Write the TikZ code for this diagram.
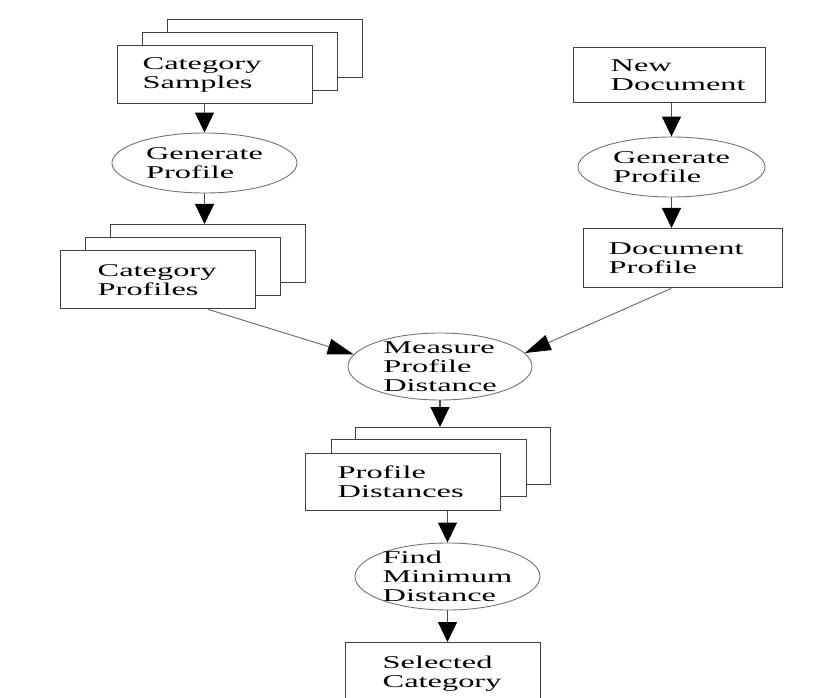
\documentclass[tikz,border=0pt]{standalone}
\usepackage{fontspec}
\setmainfont[FakeStretch=1.8]{Liberation Serif}
\usetikzlibrary{shapes.geometric,arrows.meta}

\begin{document}
\begin{tikzpicture}[x=1pt, y=-1pt,
      every node/.append style={font=\fontsize{18}{19}\selectfont, align=left},
      page/.style={draw=black!75, line width=1.4pt, fill=white, rectangle, anchor=north west,
        minimum width=195pt, minimum height=58pt, inner ysep=0pt},
      proc/.style={draw=black!55, line width=0.9pt, ellipse, inner xsep=0pt, inner ysep=-4pt},
      flow/.style={draw=black!70, line width=1.1pt, -{Triangle[length=20pt,width=19pt,color=black]}},
      link/.style={draw=black!60, line width=0.9pt, -{Triangle[length=26pt,width=16pt,color=black]}}]
  \useasboundingbox (0,0) rectangle (831,698);

  \node (CSback) [page] at (167,19) {};
  \node (CSmid) [page] at (142,32) {};
  \node (CS) [page, text width=145pt, inner xsep=25pt] at (117,45) {Category\\Samples};

  \node (gen1) [proc, minimum width=185pt, minimum height=60pt] at (204.5,163) {Generate\\Profile};

  \node (CPback) [page] at (110,224) {};
  \node (CPmid) [page] at (85,237) {};
  \node (CP) [page, text width=121pt, inner xsep=37pt] at (60,250) {Category\\Profiles};

  \node (ND) [page, minimum width=192pt, minimum height=55pt, text width=118pt, inner xsep=37pt] at (573,47) {New\\Document};
  \node (gen2) [proc, minimum width=187pt, minimum height=60pt] at (671.5,167) {Generate\\Profile};
  \node (DP) [page, minimum width=199pt, minimum height=59pt, text width=149pt, inner xsep=25pt] at (583,228) {Document\\Profile};

  \node (meas) [proc, minimum width=184pt, minimum height=67pt] at (440,366.5) {Measure\\Profile\\Distance};

  \node (PDback) [page, minimum height=57pt] at (355,427) {};
  \node (PDmid) [page, minimum height=57pt] at (331,439) {};
  \node (PD) [page, minimum height=57pt, text width=131pt, inner xsep=32pt] at (305,453) {Profile\\Distances};

  \node (find) [proc, minimum width=185pt, minimum height=67pt] at (447.5,576.5) {Find\\Minimum\\Distance};

  \node (SC) [page, minimum height=62pt, text width=121pt, inner xsep=37pt] at (345,642) {Selected\\Category};

  \draw [flow] (gen1.north |- CS.south) -- (gen1.north);
  \draw [flow] (gen1.south) -- (gen1.south |- CPback.north);
  \draw [flow] (gen2.north |- ND.south) -- (gen2.north);
  \draw [flow] (gen2.south) -- (gen2.south |- DP.north);
  \draw [link] ([xshift=50pt]CP.south) -- (meas.172);
  \draw [link] ([xshift=-12pt]DP.south) -- (meas.9);
  \draw [flow] (meas.south) -- (meas.south |- PDback.north);
  \draw [flow] (find.north |- PD.south) -- (find.north);
  \draw [flow] (find.south) -- (find.south |- SC.north);
\end{tikzpicture}
\end{document}
